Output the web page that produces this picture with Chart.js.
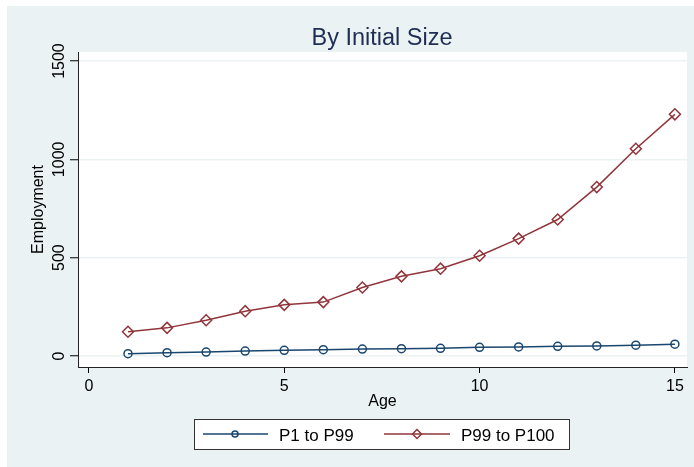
<!DOCTYPE html>
<html>
<head>
<meta charset="utf-8">
<script src="https://cdn.jsdelivr.net/npm/chart.js@4/dist/chart.umd.min.js"></script>
<style>
  html, body { margin: 0; padding: 0; background: #fff; }
  #wrap { width: 694px; height: 467px; }
</style>
</head>
<body>
<div id="wrap"><canvas id="myChart" width="694" height="467"></canvas></div>
<script>
var ages = [1, 2, 3, 4, 5, 6, 7, 8, 9, 10, 11, 12, 13, 14, 15];
var p1ToP99 = [12, 17, 20, 25, 29, 32, 35, 37, 39, 44, 46, 49, 51, 55, 60];
var p99ToP100 = [123, 143, 182, 228, 260, 274, 348, 405, 444, 510, 597, 694, 859, 1054, 1229];
var xTicks = [0, 5, 10, 15];
var yTicks = [0, 500, 1000, 1500];
var seriesNames = ["P1 to P99", "P99 to P100"];

var FONT = "'Liberation Sans', Arial, sans-serif";
var NAVY = "#1a476f";
var MAROON = "#90353b";
var BG = "#eaf2f3";

function toPoints(ys) {
    return ages.map(function (a, i) { return { x: a, y: ys[i] }; });
}

// background, plot region and all the text Stata puts around the plot
var stataLook = {
    id: 'stataLook',
    beforeDraw: function (chart) {
        var c = chart.ctx, a = chart.chartArea;
        c.save();
        c.fillStyle = '#fff';
        c.fillRect(0, 0, chart.width, chart.height);
        c.fillStyle = BG;
        c.fillRect(7, 6, chart.width - 7, chart.height - 6);
        c.fillStyle = '#fff';
        c.fillRect(a.left, a.top, a.right - a.left, a.bottom - a.top);
        c.restore();
    },
    afterDraw: function (chart) {
        var c = chart.ctx, a = chart.chartArea;
        var ys = chart.scales.y;
        c.save();

        // title
        c.fillStyle = '#1e2d53';
        c.font = '23.5px ' + FONT;
        c.textAlign = 'center';
        c.textBaseline = 'alphabetic';
        c.fillText('By Initial Size', 382, 45);

        // y tick labels, rotated
        c.fillStyle = '#000';
        c.font = '16px ' + FONT;
        yTicks.forEach(function (v) {
            c.save();
            c.translate(63.5, ys.getPixelForValue(v));
            c.rotate(-Math.PI / 2);
            c.fillText(String(v), 0, 0);
            c.restore();
        });

        // y title
        c.save();
        c.translate(43, (a.top + a.bottom) / 2);
        c.rotate(-Math.PI / 2);
        c.fillText('Employment', 0, 0);
        c.restore();

        // x title
        c.fillText('Age', (a.left + a.right) / 2, 406);

        // legend
        c.fillStyle = '#fff';
        c.fillRect(194, 419, 375, 30);
        c.strokeStyle = '#333';
        c.lineWidth = 1;
        c.strokeRect(194.5, 419.5, 375, 30);

        var ly = 434;
        c.lineWidth = 1.5;
        c.strokeStyle = NAVY;
        c.beginPath(); c.moveTo(203, ly); c.lineTo(268, ly); c.stroke();
        c.beginPath(); c.arc(235, ly, 3, 0, Math.PI * 2); c.stroke();

        c.strokeStyle = MAROON;
        c.beginPath(); c.moveTo(384, ly); c.lineTo(450, ly); c.stroke();
        c.beginPath();
        c.moveTo(417 - 4.5, ly); c.lineTo(417, ly - 4.5);
        c.lineTo(417 + 4.5, ly); c.lineTo(417, ly + 4.5);
        c.closePath(); c.stroke();

        c.fillStyle = '#000';
        c.font = '17px ' + FONT;
        c.textAlign = 'left';
        c.fillText(seriesNames[0], 279, 441);
        c.fillText(seriesNames[1], 461, 441);

        c.restore();
    }
};

var ctx = document.getElementById('myChart');
var myChart = new Chart(ctx, {
    type: 'line',
    data: {
        datasets: [
            {
                label: seriesNames[0],
                data: toPoints(p1ToP99),
                borderColor: NAVY,
                borderWidth: 1.5,
                pointStyle: 'circle',
                pointRadius: 4,
                pointBorderWidth: 1.5,
                pointBorderColor: NAVY,
                pointBackgroundColor: 'rgba(0,0,0,0)',
                tension: 0
            },
            {
                label: seriesNames[1],
                data: toPoints(p99ToP100),
                borderColor: MAROON,
                borderWidth: 1.5,
                pointStyle: 'rectRot',
                pointRadius: 5.5,
                pointBorderWidth: 1.5,
                pointBorderColor: MAROON,
                pointBackgroundColor: 'rgba(0,0,0,0)',
                tension: 0
            }
        ]
    },
    options: {
        responsive: false,
        animation: false,
        events: [],
        layout: { padding: { top: 52, right: 6, left: 0, bottom: 0 } },
        plugins: {
            legend: { display: false },
            title: { display: false },
            tooltip: { enabled: false }
        },
        scales: {
            x: {
                type: 'linear',
                min: -0.28,
                max: 15.31,
                afterBuildTicks: function (scale) {
                    scale.ticks = xTicks.map(function (v) { return { value: v }; });
                },
                afterFit: function (scale) { scale.height = 100; },
                grid: {
                    drawOnChartArea: false,
                    drawTicks: true,
                    tickLength: 6,
                    tickColor: '#000'
                },
                border: { display: true, color: '#222', width: 1 },
                ticks: {
                    autoSkip: false,
                    maxRotation: 0,
                    padding: 4,
                    color: '#000',
                    font: { family: FONT, size: 16 }
                }
            },
            y: {
                min: -56,
                max: 1546,
                afterBuildTicks: function (scale) {
                    scale.ticks = yTicks.map(function (v) { return { value: v }; });
                },
                afterFit: function (scale) { scale.width = 78; },
                grid: {
                    color: BG,
                    lineWidth: 1.5,
                    drawTicks: true,
                    tickLength: 8,
                    tickColor: '#000',
                    tickWidth: 1
                },
                border: { display: true, color: '#222', width: 1 },
                ticks: { display: false }
            }
        }
    },
    plugins: [stataLook]
});
</script>
</body>
</html>
